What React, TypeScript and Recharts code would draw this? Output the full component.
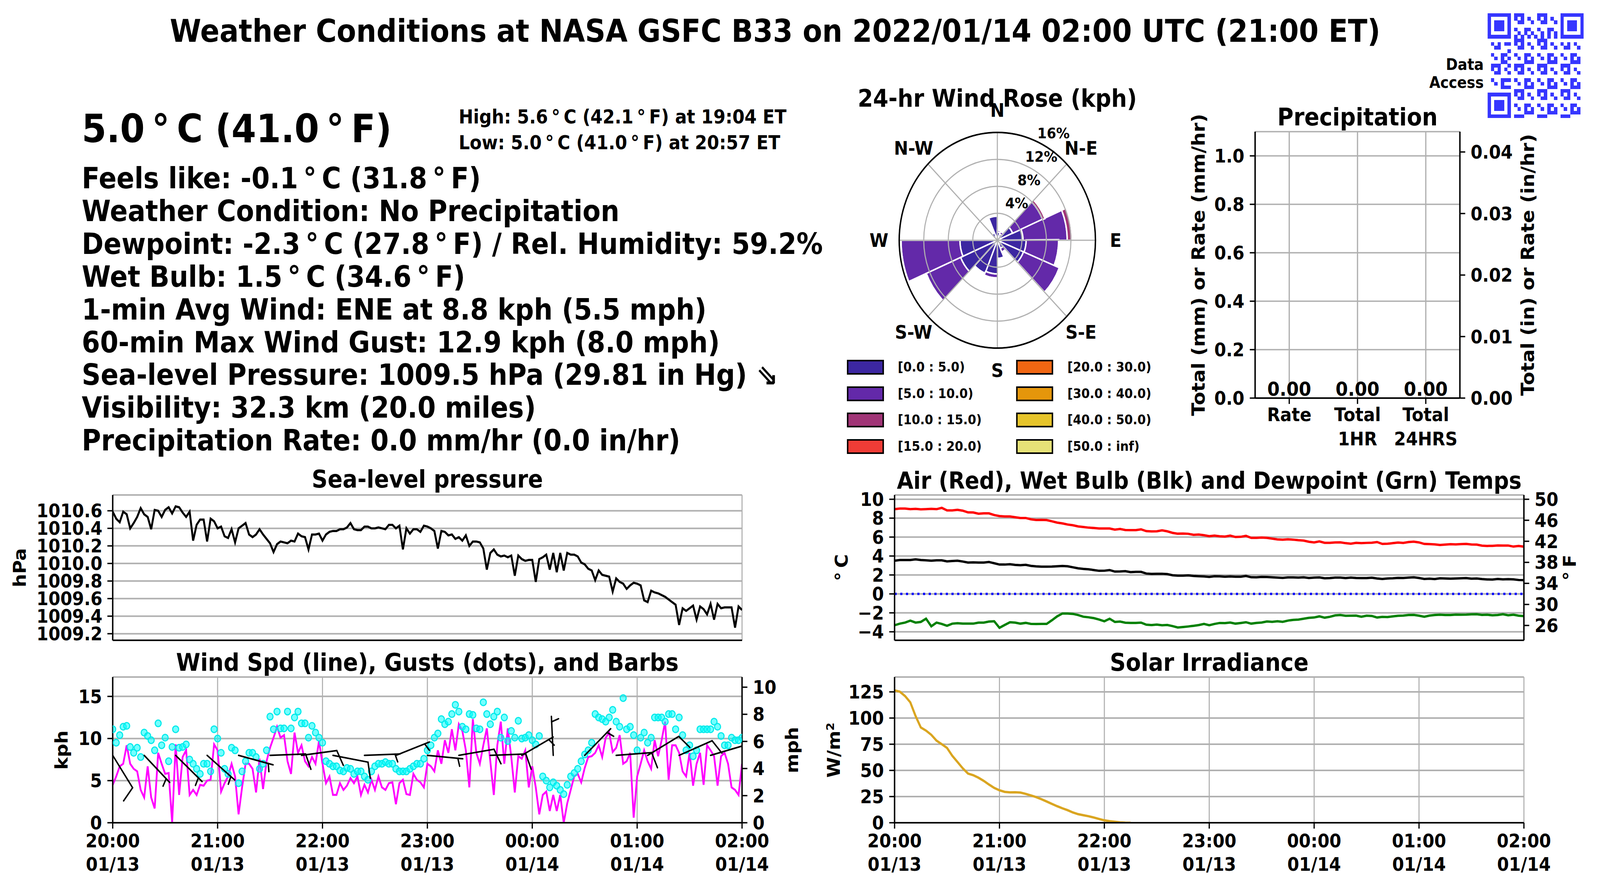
import React from "react";
import {
  ComposedChart,
  Bar,
  LineChart,
  Line,
  Scatter,
  XAxis,
  YAxis,
  CartesianGrid,
  ReferenceLine,
  RadialBarChart,
  RadialBar,
  PolarGrid,
  PolarAngleAxis,
  PolarRadiusAxis,
} from "recharts";

const FONT = "'DejaVu Sans', Verdana, sans-serif";

// ---------- time axis (minutes after 20:00 ET) ----------
const hourTicks = [0, 60, 120, 180, 240, 300, 360];
const hourLabels = ["20:00", "21:00", "22:00", "23:00", "00:00", "01:00", "02:00"];
const dateLabels = ["01/13", "01/13", "01/13", "01/13", "01/14", "01/14", "01/14"];

// ---------- sea-level pressure, one reading every 2 min ----------
const PRESSURE_STEP = 2;
const pressureHpa = [
  1010.59, 1010.51, 1010.47, 1010.59, 1010.56, 1010.4, 1010.46, 1010.53, 1010.63, 1010.56,
  1010.53, 1010.39, 1010.61, 1010.6, 1010.53, 1010.61, 1010.64, 1010.57, 1010.65, 1010.64,
  1010.58, 1010.53, 1010.59, 1010.26, 1010.44, 1010.5, 1010.5, 1010.25, 1010.51, 1010.48,
  1010.4, 1010.42, 1010.31, 1010.29, 1010.39, 1010.24, 1010.4, 1010.43, 1010.46, 1010.33,
  1010.3, 1010.33, 1010.39, 1010.33, 1010.28, 1010.23, 1010.13, 1010.22, 1010.25, 1010.24,
  1010.23, 1010.26, 1010.25, 1010.34, 1010.31, 1010.3, 1010.16, 1010.33, 1010.33, 1010.34,
  1010.26, 1010.33, 1010.36, 1010.37, 1010.37, 1010.39, 1010.39, 1010.41, 1010.46, 1010.39,
  1010.38, 1010.38, 1010.42, 1010.42, 1010.4, 1010.4, 1010.41, 1010.4, 1010.39, 1010.44,
  1010.44, 1010.4, 1010.43, 1010.16, 1010.4, 1010.34, 1010.39, 1010.39, 1010.36, 1010.43,
  1010.42, 1010.4, 1010.37, 1010.17, 1010.37, 1010.36, 1010.32, 1010.33, 1010.28, 1010.3,
  1010.26, 1010.32, 1010.2, 1010.25, 1010.25, 1010.24, 1010.17, 1009.93, 1010.12, 1010.16,
  1010.1, 1010.08, 1010.09, 1010.07, 1010.09, 1009.86, 1010.09, 1010.05, 1010.03, 1010.04,
  1010.04, 1009.79, 1010.05, 1010.07, 1010.1, 1009.93, 1010.12, 1009.9, 1010.12, 1009.92,
  1010.12, 1010.1, 1010.1, 1010.08, 1010.01, 1009.99, 1009.94, 1009.92, 1009.81, 1009.92,
  1009.87, 1009.86, 1009.85, 1009.68, 1009.83, 1009.79, 1009.77, 1009.71, 1009.75, 1009.78,
  1009.77, 1009.75, 1009.58, 1009.56, 1009.69, 1009.67, 1009.66, 1009.64, 1009.62, 1009.59,
  1009.56, 1009.53, 1009.3, 1009.49, 1009.46, 1009.49, 1009.52, 1009.36, 1009.51, 1009.48,
  1009.42, 1009.54, 1009.36, 1009.54, 1009.49, 1009.5, 1009.5, 1009.5, 1009.27, 1009.51,
  1009.47,
];
const pressureTicks = [1009.2, 1009.4, 1009.6, 1009.8, 1010.0, 1010.2, 1010.4, 1010.6];

// ---------- wind speed and gusts (kph), every 2 min ----------
const WIND_STEP = 2;
const windKph = [
  4.5, 5.5, 6.7, 7.0, 9.2, 7.0, 6.4, 6.1, 3.9, 3.0,
  6.7, 3.0, 1.7, 8.3, 7.0, 5.8, 5.9, 0.0, 9.3, 3.3,
  7.8, 8.6, 3.3, 3.9, 3.3, 4.5, 4.4, 5.0, 5.1, 9.3,
  8.6, 3.7, 4.7, 5.5, 7.0, 5.5, 1.0, 4.2, 7.0, 7.0,
  6.4, 3.6, 7.6, 4.0, 7.3, 8.9, 10.1, 11.4, 10.1, 10.4,
  7.3, 5.8, 10.7, 8.3, 9.2, 7.3, 6.7, 7.8, 7.0, 9.7,
  7.0, 4.7, 5.5, 3.3, 3.3, 4.7, 3.9, 4.4, 5.3, 4.7,
  5.5, 3.3, 4.5, 3.6, 5.1, 3.9, 5.5, 4.2, 3.9, 4.7,
  4.8, 2.2, 4.7, 5.1, 3.4, 3.3, 5.8, 5.1, 4.8, 4.2,
  7.0, 6.7, 6.1, 8.6, 7.0, 9.8, 8.3, 11.1, 8.6, 11.7,
  10.9, 8.6, 4.2, 12.3, 8.3, 7.0, 9.2, 11.2, 7.3, 3.3,
  9.2, 12.0, 7.0, 11.2, 7.8, 3.6, 7.9, 7.6, 8.6, 4.2,
  6.7, 4.2, 1.0, 3.3, 3.7, 1.4, 3.3, 1.4, 3.3, 0.0,
  2.3, 3.9, 5.5, 5.8, 4.8, 6.5, 7.8, 7.9, 8.3, 9.2,
  7.8, 10.1, 10.7, 8.4, 8.9, 10.4, 7.0, 7.3, 8.3, 0.6,
  5.5, 7.0, 8.6, 7.3, 6.4, 9.8, 7.9, 9.8, 12.0, 5.1,
  9.2, 9.2, 8.3, 6.1, 5.5, 8.3, 4.4, 7.0, 8.3, 4.5,
  9.2, 8.6, 7.9, 4.4, 7.9, 8.3, 7.0, 4.2, 3.9, 3.3,
  7.0,
];
const gustKph = [
  11.1, 9.5, 10.4, 11.4, 11.5, 9.0, 8.3, 8.9, 7.8, 10.7,
  10.3, 9.8, 8.6, 11.8, 9.2, 10.1, 7.3, 9.0, 11.1, 8.9,
  9.0, 9.3, 7.5, 7.0, 6.4, 5.8, 7.0, 7.0, 6.1, 11.1,
  10.0, 8.3, 6.4, 5.8, 8.9, 8.6, 4.7, 6.1, 7.3, 8.3,
  8.3, 7.8, 6.4, 7.0, 8.6, 12.6, 11.1, 13.2, 11.2, 11.2,
  13.2, 11.2, 12.5, 13.2, 11.8, 11.8, 10.1, 11.5, 10.7, 10.1,
  9.5, 7.3, 7.0, 6.7, 6.7, 6.2, 6.1, 6.5, 6.4, 5.8,
  6.1, 6.1, 5.5, 5.1, 6.1, 6.7, 7.0, 7.0, 7.2, 7.0,
  7.0, 6.4, 6.1, 6.1, 6.1, 6.4, 6.7, 7.0, 7.0, 7.6,
  8.6, 9.2, 10.1, 10.6, 12.3, 11.7, 12.0, 12.9, 14.0, 13.2,
  11.4, 11.1, 12.9, 12.8, 11.2, 11.1, 14.3, 12.9, 11.7, 12.6,
  13.2, 10.1, 12.5, 9.7, 10.9, 10.1, 12.1, 10.0, 10.1, 10.4,
  9.8, 9.3, 10.3, 5.5, 5.0, 4.2, 4.8, 4.4, 3.9, 3.4,
  4.5, 5.5, 5.9, 6.4, 7.3, 8.1, 8.6, 9.5, 12.9, 12.5,
  12.3, 12.0, 12.5, 13.4, 12.0, 11.4, 14.8, 11.1, 11.4, 10.4,
  8.6, 10.1, 10.7, 9.5, 10.1, 12.5, 12.5, 12.5, 12.0, 12.9,
  12.9, 11.1, 12.5, 10.4, 8.6, 9.2, 7.9, 8.6, 11.1, 11.1,
  11.1, 11.1, 12.0, 11.4, 10.3, 9.2, 9.2, 10.1, 9.8, 9.8,
  10.1,
];
const kphTicks = [0, 5, 10, 15];
const mphTicks = [0, 2, 4, 6, 8, 10];
const KPH_MAX = 17.3;
const KPH_PER_MPH = 1.609344;

// wind barbs, one every 18 min, drawn at the 8 kph level
const barbMinutes = [0, 18, 36, 54, 72, 90, 108, 126, 144, 162, 180, 198, 216, 234, 252, 270, 288, 306, 324, 342];
const barbFromDeg = [146, 134, 132, 129, 104, 88, 83, 100, 88, 70, 95, 81, 88, 62, 357, 47, 86, 61, 68, 75];
const barbSpeed = [8.4, 6.0, 5.5, 5.2, 6.5, 8.6, 9.0, 7.8, 5.0, 5.5, 6.8, 9.5, 8.8, 5.5, 3.5, 7.0, 8.0, 8.2, 8.5, 8.0];
const BARB_LEVEL_KPH = 8;

// ---------- temperatures (deg C), every 3 min ----------
const TEMP_STEP = 3;
const airC = [
  8.95, 9.02, 9.02, 8.95, 8.98, 8.93, 8.95, 8.98, 8.95, 9.09,
  8.82, 8.82, 8.88, 8.79, 8.61, 8.6, 8.47, 8.51, 8.51, 8.33,
  8.22, 8.18, 8.18, 8.1, 8.02, 8.02, 7.88, 7.81, 7.82, 7.8,
  7.67, 7.53, 7.45, 7.33, 7.25, 7.13, 7.07, 7.0, 6.96, 6.91,
  6.91, 6.91, 6.79, 6.86, 6.75, 6.74, 6.74, 6.82, 6.63, 6.6,
  6.61, 6.71, 6.61, 6.45, 6.36, 6.38, 6.35, 6.24, 6.27, 6.2,
  6.1, 6.16, 6.09, 6.06, 6.16, 6.01, 6.03, 6.13, 5.92, 5.92,
  5.95, 5.92, 5.84, 5.76, 5.73, 5.77, 5.73, 5.67, 5.63, 5.51,
  5.44, 5.55, 5.4, 5.4, 5.44, 5.45, 5.36, 5.3, 5.39, 5.36,
  5.39, 5.41, 5.48, 5.28, 5.3, 5.36, 5.43, 5.39, 5.48, 5.52,
  5.44, 5.28, 5.26, 5.23, 5.17, 5.21, 5.25, 5.23, 5.26, 5.28,
  5.22, 5.21, 5.1, 5.07, 5.08, 5.12, 5.11, 5.11, 5.0, 5.06,
  4.99,
];
const wetBulbC = [
  3.51, 3.58, 3.58, 3.58, 3.65, 3.58, 3.55, 3.51, 3.55, 3.55,
  3.44, 3.48, 3.51, 3.42, 3.31, 3.33, 3.31, 3.31, 3.37, 3.24,
  3.1, 3.1, 3.14, 3.06, 3.03, 3.07, 2.96, 2.91, 2.88, 2.88,
  2.89, 2.92, 2.95, 2.92, 2.81, 2.7, 2.64, 2.6, 2.52, 2.44,
  2.45, 2.52, 2.36, 2.37, 2.4, 2.3, 2.33, 2.33, 2.15, 2.11,
  2.13, 2.13, 2.09, 1.97, 1.93, 1.93, 1.96, 1.9, 1.87, 1.85,
  1.8, 1.87, 1.86, 1.82, 1.85, 1.82, 1.82, 1.9, 1.76, 1.75,
  1.79, 1.78, 1.75, 1.72, 1.69, 1.74, 1.74, 1.72, 1.75, 1.68,
  1.72, 1.74, 1.65, 1.67, 1.72, 1.72, 1.67, 1.72, 1.68, 1.67,
  1.67, 1.71, 1.63, 1.58, 1.63, 1.65, 1.69, 1.68, 1.72, 1.75,
  1.68, 1.58, 1.61, 1.57, 1.65, 1.63, 1.61, 1.63, 1.65, 1.67,
  1.61, 1.63, 1.57, 1.53, 1.52, 1.58, 1.54, 1.56, 1.54, 1.47,
  1.45,
];
const dewpointC = [
  -3.31, -3.14, -3.03, -2.82, -3.03, -2.96, -2.62, -3.42, -3.03, -3.17,
  -3.37, -3.14, -3.1, -3.14, -3.14, -3.14, -3.03, -3.03, -2.92, -2.89,
  -3.58, -3.28, -2.99, -3.03, -3.14, -3.06, -3.17, -3.18, -3.17, -3.17,
  -2.78, -2.37, -2.07, -2.07, -2.11, -2.23, -2.41, -2.47, -2.56, -2.71,
  -2.89, -2.62, -2.96, -2.92, -3.04, -3.06, -3.06, -3.03, -3.25, -3.29,
  -3.24, -3.31, -3.28, -3.4, -3.55, -3.5, -3.44, -3.37, -3.29, -3.17,
  -3.31, -3.17, -3.07, -3.08, -3.02, -3.14, -3.07, -2.99, -3.14, -3.06,
  -3.02, -2.91, -2.95, -2.89, -2.95, -2.82, -2.74, -2.71, -2.62, -2.53,
  -2.49, -2.37, -2.51, -2.42, -2.27, -2.23, -2.31, -2.3, -2.29, -2.41,
  -2.3, -2.33, -2.49, -2.42, -2.44, -2.37, -2.31, -2.29, -2.23, -2.22,
  -2.3, -2.41, -2.29, -2.23, -2.2, -2.23, -2.23, -2.19, -2.2, -2.19,
  -2.16, -2.15, -2.22, -2.2, -2.26, -2.23, -2.15, -2.26, -2.2, -2.3,
  -2.34,
];
const tempCTicks = [-4, -2, 0, 2, 4, 6, 8, 10];
const tempFTicks = [26, 30, 34, 38, 42, 46, 50];
const TEMP_C_MIN = -4.9;
const TEMP_C_MAX = 10.45;

// ---------- solar irradiance (W/m2), every 3 min until sunset ----------
const SOLAR_STEP = 3;
const solarWm2 = [
  126.4, 125.2, 121, 115, 102, 91, 88, 84, 78.4, 75,
  71.5, 64, 58, 52, 47, 45.4, 43, 40, 36.5, 33.3,
  31, 29.5, 29, 29.1, 28.8, 27.6, 26.1, 24.5, 22.5, 20.3,
  18, 15.8, 13.8, 12.0, 9.8, 8.2, 7.2, 6.2, 5.0, 3.6,
  2.3, 1.5, 0.9, 0.4, 0.1, 0,
];
const solarTicks = [0, 25, 50, 75, 100, 125];

// ---------- precipitation ----------
const precipCategories = ["Rate", "Total 1HR", "Total 24HRS"];
const precipTickLines = [["Rate"], ["Total", "1HR"], ["Total", "24HRS"]];
const precipMm = [0, 0, 0];
const precipMmTicks = [0, 0.2, 0.4, 0.6, 0.8, 1.0];
const precipInTicks = [0, 0.01, 0.02, 0.03, 0.04];
const PRECIP_MM_MAX = 1.1;
const MM_PER_IN = 25.4;

// ---------- 24-hr wind rose (% of time) ----------
const roseDirs = ["N", "NNE", "NE", "ENE", "E", "ESE", "SE", "SSE", "S", "SSW", "SW", "WSW", "W", "WNW", "NW", "NNW"];
const roseDirLabels = ["N", "N-E", "E", "S-E", "S", "S-W", "W", "N-W"];
const roseBins = ["[0.0 : 5.0)", "[5.0 : 10.0)", "[10.0 : 15.0)", "[15.0 : 20.0)", "[20.0 : 30.0)", "[30.0 : 40.0)", "[40.0 : 50.0)", "[50.0 : inf)"];
const roseColors = ["#3c27a1", "#6329a9", "#a03476", "#ef3c36", "#f06612", "#e5960b", "#e6c42a", "#e6e277"];
const rose0to5 = [3.6, 1.2, 1.0, 2.7, 4.2, 4.7, 4.6, 1.3, 2.7, 5.0, 5.3, 6.5, 6.1, 0, 0, 1.2];
const rose5to10 = [0, 0.3, 0.4, 5.3, 7.2, 5.3, 6.3, 0.6, 0, 0.6, 0, 6.1, 9.6, 0, 0, 0];
const rose10to15 = [0, 0, 0, 0.4, 0.8, 0, 0, 0, 0, 0, 0, 0, 0, 0, 0, 0];
const roseBinPct = [rose0to5, rose5to10, rose10to15];
const roseRingTicks = [4, 8, 12, 16];
const ROSE_MAX = 16;

// ---------- station readout ----------
const DEG = "\u2009°\u2009";
const readoutLines = [
  `Feels like: -0.1${DEG}C (31.8${DEG}F)`,
  "Weather Condition: No Precipitation",
  `Dewpoint: -2.3${DEG}C (27.8${DEG}F) / Rel. Humidity: 59.2%`,
  `Wet Bulb: 1.5${DEG}C (34.6${DEG}F)`,
  "1-min Avg Wind: ENE at 8.8 kph (5.5 mph)",
  "60-min Max Wind Gust: 12.9 kph (8.0 mph)",
  "Sea-level Pressure: 1009.5 hPa (29.81 in Hg) \u21d8",
  "Visibility: 32.3 km (20.0 miles)",
  "Precipitation Rate: 0.0 mm/hr (0.0 in/hr)",
];

// ---------- derived rows ----------
const pressureRows = pressureHpa.map((p, i) => ({ t: i * PRESSURE_STEP, p }));
const windRows = windKph.map((w, i) => ({ t: i * WIND_STEP, w }));
const gustRows = gustKph.map((g, i) => ({ t: i * WIND_STEP, g }));
const barbRows = barbMinutes.map((t, i) => ({ t, y: BARB_LEVEL_KPH, dir: barbFromDeg[i], spd: barbSpeed[i] }));
const tempRows = airC.map((a, i) => ({ t: i * TEMP_STEP, air: a, wet: wetBulbC[i], dew: dewpointC[i] }));
const solarRows = solarWm2.map((s, i) => ({ t: i * SOLAR_STEP, s }));
const precipRows = precipCategories.map((name, i) => ({ name, v: precipMm[i] }));
const roseRows = roseDirs.map((dir, i) => {
  const row: any = { dir };
  roseBinPct.forEach((arr, b) => (row["b" + b] = arr[i]));
  return row;
});

// ---------- styles ----------
const spine = { stroke: "#000", strokeWidth: 4 };
const tickLineStyle = { stroke: "#000", strokeWidth: 3.5 };
const tickFont = { fill: "#000", fontSize: 48, fontWeight: 700, fontFamily: FONT };
const GRID = "#b0b0b0";
const minus = (v: number) => (v < 0 ? "\u2212" + Math.abs(v) : String(v));

const Txt = ({ x, y, size, anchor = "middle", rotate = 0, children }: any) => {
  const tx = anchor === "start" ? "0%" : anchor === "end" ? "-100%" : "-50%";
  return (
    <div
      style={{
        position: "absolute",
        left: x,
        top: y,
        transform: `translate(${tx}, -50%) rotate(${rotate}deg)`,
        fontFamily: FONT,
        fontWeight: 700,
        fontSize: size,
        lineHeight: 1.15,
        whiteSpace: "pre",
        color: "#000",
        textAlign: anchor === "end" ? "right" : "left",
      }}
    >
      {children}
    </div>
  );
};

const TimeTick = (props: any) => {
  const { x, y, payload } = props;
  const i = hourTicks.indexOf(payload.value);
  return (
    <text x={x} y={y} textAnchor="middle" fill="#000" fontSize={48} fontWeight={700} fontFamily={FONT}>
      <tspan x={x} dy={48}>{hourLabels[i]}</tspan>
      <tspan x={x} dy={60}>{dateLabels[i]}</tspan>
    </text>
  );
};

const PrecipTick = (props: any) => {
  const { x, y, payload } = props;
  const lines = precipTickLines[precipCategories.indexOf(payload.value)] || [];
  return (
    <text x={x} y={y} textAnchor="middle" fill="#000" fontSize={48} fontWeight={700} fontFamily={FONT}>
      {lines.map((l, k) => (
        <tspan key={k} x={x} dy={k === 0 ? 44 : 62}>{l}</tspan>
      ))}
    </text>
  );
};

// value label drawn just above each precipitation bar's top
const PrecipValue = (props: any) => (
  <text x={props.cx} y={props.cy - 6} textAnchor="middle" fill="#000" fontSize={50} fontWeight={700} fontFamily={FONT}>
    {Number(props.payload.v).toFixed(2)}
  </text>
);

const GustDot = (props: any) => (
  <circle cx={props.cx} cy={props.cy} r={8.5} fill="#00ffff" fillOpacity={0.55} stroke="#00eaea" strokeWidth={3} />
);

const BARB_LEN = 100;
const Barb = (props: any) => {
  const { cx, cy, payload } = props;
  const phi = ((payload.dir - 90) * Math.PI) / 180;
  const ux = Math.cos(phi);
  const uy = Math.sin(phi);
  const ex = cx + BARB_LEN * ux;
  const ey = cy + BARB_LEN * uy;
  const rounded = Math.round(payload.spd / 5) * 5;
  const full = rounded >= 10;
  const inset = full ? 0 : 14;
  const len = full ? 42 : 21;
  const f = ((payload.dir - 90 + 71) * Math.PI) / 180;
  const sx = ex - inset * ux;
  const sy = ey - inset * uy;
  return (
    <g stroke="#000" strokeWidth={4} strokeLinecap="round">
      <line x1={cx} y1={cy} x2={ex} y2={ey} />
      {rounded > 0 && <line x1={sx} y1={sy} x2={sx + len * Math.cos(f)} y2={sy + len * Math.sin(f)} />}
    </g>
  );
};

// wind rose geometry
const ROSE_BOX = 800;
const ROSE_C = 400;
const ROSE_R = 276;
const ROSE_LABEL_R = 333;

const RoseDirTick = (props: any) => {
  const { x, y, index } = props;
  if (index % 2 !== 0) return <g />;
  const cx = props.cx ?? ROSE_C;
  const cy = props.cy ?? ROSE_C;
  const dx = x - cx;
  const dy = y - cy;
  const d = Math.sqrt(dx * dx + dy * dy) || 1;
  return (
    <text
      x={cx + (dx / d) * ROSE_LABEL_R}
      y={cy + (dy / d) * ROSE_LABEL_R}
      textAnchor="middle"
      dominantBaseline="central"
      fill="#000"
      fontSize={48}
      fontWeight={700}
      fontFamily={FONT}
    >
      {roseDirLabels[index / 2]}
    </text>
  );
};

const RoseRingTick = (props: any) => {
  const { x, y, payload } = props;
  return (
    <text x={x + 20} y={y - 35} textAnchor="middle" dominantBaseline="central" fill="#000" fontSize={38} fontWeight={700} fontFamily={FONT}>
      {payload.value}%
    </text>
  );
};

const QR_N = 29;
const qrDark = (r: number, c: number) => {
  const inF = (r0: number, c0: number) => r >= r0 && r < r0 + 7 && c >= c0 && c < c0 + 7;
  const fin = (r0: number, c0: number) => {
    const lr = r - r0;
    const lc = c - c0;
    return lr === 0 || lr === 6 || lc === 0 || lc === 6 || (lr >= 2 && lr <= 4 && lc >= 2 && lc <= 4);
  };
  if (inF(0, 0)) return fin(0, 0);
  if (inF(0, QR_N - 7)) return fin(0, QR_N - 7);
  if (inF(QR_N - 7, 0)) return fin(QR_N - 7, 0);
  if ((r === 7 && (c < 8 || c >= QR_N - 8)) || (c === 7 && (r < 8 || r >= QR_N - 8))) return false;
  if (r === QR_N - 8 && c < 8) return false;
  if (c === QR_N - 8 && r < 8) return false;
  if (r === 6) return c % 2 === 0;
  if (c === 6) return r % 2 === 0;
  return (r * r * 7 + c * 13 + r * c * 5 + 3) % 7 < 3;
};

const QrCode = () => {
  const cells: React.ReactNode[] = [];
  for (let r = 0; r < QR_N; r++)
    for (let c = 0; c < QR_N; c++)
      if (qrDark(r, c)) cells.push(<rect key={r + "_" + c} x={c} y={r} width={1.02} height={1.02} />);
  return (
    <svg
      style={{ position: "absolute", left: 4184, top: 34 }}
      width={270}
      height={268}
      viewBox={`0 0 ${QR_N} ${QR_N}`}
      preserveAspectRatio="none"
      shapeRendering="crispEdges"
    >
      <g fill="#3636ff">{cells}</g>
    </svg>
  );
};

const xAxisBottom = (withLabels: boolean, height: number) => (
  <XAxis
    type="number"
    dataKey="t"
    domain={[0, 360]}
    ticks={hourTicks}
    interval={0}
    height={height}
    tickSize={15}
    tickMargin={0}
    tickLine={tickLineStyle}
    axisLine={spine}
    tick={withLabels ? <TimeTick /> : false}
    allowDataOverflow
  />
);

const xAxisTop = (
  <XAxis xAxisId="top" orientation="top" type="number" domain={[0, 360]} height={0} tick={false} tickLine={false} axisLine={spine} />
);

const PAGE_W = 4500;
const PAGE_H = 2250;

export default function App() {
  // the figure is laid out at 4500x2250 and stretched onto whatever viewport the page gets
  const vw = typeof window !== "undefined" ? document.documentElement.clientWidth || window.innerWidth : PAGE_W;
  const vh = typeof window !== "undefined" ? window.innerHeight : PAGE_H;
  const sx = Math.min(1, vw / PAGE_W);
  const sy = Math.min(1, vh / PAGE_H);
  return (
    <div
      style={{
        position: "absolute",
        left: 0,
        top: 0,
        width: PAGE_W,
        height: PAGE_H,
        background: "#fff",
        overflow: "hidden",
        transform: `scale(${sx}, ${sy})`,
        transformOrigin: "0 0",
      }}
    >
      {/* headline + readout */}
      <Txt x={2180} y={80} size={80}>Weather Conditions at NASA GSFC B33 on 2022/01/14 02:00 UTC (21:00 ET)</Txt>
      <Txt x={230} y={329} size={100} anchor="start">{`5.0${DEG}C (41.0${DEG}F)`}</Txt>
      <Txt x={1290} y={300} size={49} anchor="start">{`High: 5.6${DEG}C (42.1${DEG}F) at 19:04 ET`}</Txt>
      <Txt x={1290} y={366} size={49} anchor="start">{`Low: 5.0${DEG}C (41.0${DEG}F) at 20:57 ET`}</Txt>
      {readoutLines.map((l, i) => (
        <Txt key={i} x={230} y={457 + i * 83.9} size={74} anchor="start">{l}</Txt>
      ))}

      <QrCode />
      <Txt x={4173} y={188} size={40} anchor="end">{"Data\nAccess"}</Txt>

      {/* wind rose */}
      <Txt x={2805} y={252} size={62}>24-hr Wind Rose (kph)</Txt>
      <div style={{ position: "absolute", left: 2805 - ROSE_C, top: 615 - ROSE_C }}>
        <RadialBarChart
          width={ROSE_BOX}
          height={ROSE_BOX}
          cx={ROSE_C}
          cy={ROSE_C}
          innerRadius={0}
          outerRadius={ROSE_R}
          startAngle={90}
          endAngle={-270}
          data={roseRows}
          layout={"centric" as any}
          barCategoryGap={0}
          margin={{ top: 0, right: 0, bottom: 0, left: 0 }}
        >
          <PolarAngleAxis type="category" dataKey="dir" tick={false} tickLine={false} axisLine={false} />
          <PolarRadiusAxis type="number" domain={[0, ROSE_MAX]} tick={false} tickLine={false} axisLine={false} />
          {roseBinPct.map((arr, b) => (
            <RadialBar
              key={b}
              dataKey={"b" + b}
              stackId="rose"
              fill={roseColors[b]}
              stroke="#fff"
              strokeWidth={4}
              isAnimationActive={false}
            />
          ))}
        </RadialBarChart>
      </div>
      {/* grid and labels drawn above the bars */}
      <div style={{ position: "absolute", left: 2805 - ROSE_C, top: 615 - ROSE_C }}>
        <RadialBarChart
          width={ROSE_BOX}
          height={ROSE_BOX}
          cx={ROSE_C}
          cy={ROSE_C}
          innerRadius={0}
          outerRadius={ROSE_R}
          startAngle={90}
          endAngle={-270}
          data={roseRows}
          layout={"centric" as any}
          barCategoryGap={0}
          margin={{ top: 0, right: 0, bottom: 0, left: 0 }}
        >
          <PolarGrid
            gridType="circle"
            stroke={GRID}
            strokeWidth={3}
            polarAngles={roseDirs.map((_, i) => 90 - i * 22.5).filter((_, i) => i % 2 === 0)}
          />
          <PolarAngleAxis type="category" dataKey="dir" tick={<RoseDirTick />} tickLine={false} axisLine={false} />
          <PolarRadiusAxis
            type="number"
            angle={60}
            domain={[0, ROSE_MAX]}
            ticks={roseRingTicks}
            tick={<RoseRingTick />}
            tickLine={false}
            axisLine={false}
          />
          <RadialBar dataKey="b0" stackId="grid" fill="none" stroke="none" isAnimationActive={false} />
        </RadialBarChart>
      </div>
      <div
        style={{
          position: "absolute",
          left: 2805 - ROSE_R - 2,
          top: 615 - ROSE_R - 2,
          width: 2 * ROSE_R + 4,
          height: 2 * ROSE_R + 4,
          boxSizing: "border-box",
          border: "4px solid #000",
          borderRadius: "50%",
        }}
      />
      {roseBins.map((label, i) => {
        const col = i < 4 ? 0 : 1;
        const row = i % 4;
        const cy = 940 + row * 67.7;
        return (
          <React.Fragment key={label}>
            <div
              style={{
                position: "absolute",
                left: col ? 2858 : 2382,
                top: cy - 19,
                width: 104,
                height: 38,
                boxSizing: "border-box",
                border: "4px solid #000",
                background: roseColors[i],
              }}
            />
            <Txt x={col ? 3002 : 2525} y={cy} size={34} anchor="start">{label}</Txt>
          </React.Fragment>
        );
      })}

      {/* precipitation */}
      <Txt x={3818} y={300} size={62}>Precipitation</Txt>
      <Txt x={3372} y={678} size={50} rotate={-90}>Total (mm) or Rate (mm/hr)</Txt>
      <Txt x={4298} y={678} size={50} rotate={-90}>Total (in) or Rate (in/hr)</Txt>
      <div style={{ position: "absolute", left: 3300, top: 327 }}>
        <ComposedChart width={1000} height={852} data={precipRows} margin={{ top: 10, right: 44, bottom: 10, left: 30 }}>
          <CartesianGrid yAxisId="mm" stroke={GRID} strokeWidth={3.5} />
          <XAxis
            dataKey="name"
            type="category"
            height={150}
            interval={0}
            tickSize={15}
            tickMargin={0}
            tickLine={tickLineStyle}
            axisLine={spine}
            tick={<PrecipTick />}
          />
          <XAxis xAxisId="top" orientation="top" dataKey="name" type="category" height={0} tick={false} tickLine={false} axisLine={spine} />
          <YAxis
            yAxisId="mm"
            type="number"
            domain={[0, PRECIP_MM_MAX]}
            ticks={precipMmTicks}
            interval={0}
            width={200}
            tickSize={15}
            tickMargin={15}
            tickLine={tickLineStyle}
            axisLine={spine}
            tick={tickFont}
            tickFormatter={(v: number) => v.toFixed(1)}
            allowDataOverflow
          />
          <YAxis
            yAxisId="in"
            orientation="right"
            type="number"
            domain={[0, PRECIP_MM_MAX / MM_PER_IN]}
            ticks={precipInTicks}
            interval={0}
            width={150}
            tickSize={15}
            tickMargin={15}
            tickLine={tickLineStyle}
            axisLine={spine}
            tick={tickFont}
            tickFormatter={(v: number) => v.toFixed(2)}
            allowDataOverflow
          />
          <Bar yAxisId="mm" dataKey="v" fill="#1f77b4" isAnimationActive={false} />
          <Scatter yAxisId="mm" dataKey="v" shape={PrecipValue} isAnimationActive={false} />
        </ComposedChart>
      </div>

      {/* sea-level pressure */}
      <Txt x={1202} y={1227} size={62}>Sea-level pressure</Txt>
      <Txt x={56} y={1453} size={48} rotate={-90}>hPa</Txt>
      <div style={{ position: "absolute", left: 0, top: 1237 }}>
        <LineChart width={2110} height={442} data={pressureRows} margin={{ top: 30, right: 23, bottom: 10, left: 17 }}>
          <CartesianGrid yAxisId="p" vertical={false} stroke={GRID} strokeWidth={4} />
          <CartesianGrid yAxisId="p" horizontal={false} stroke={GRID} strokeWidth={3} />
          {xAxisBottom(false, 30)}
          {xAxisTop}
          <YAxis
            yAxisId="p"
            type="number"
            domain={[1009.125, 1010.78]}
            ticks={pressureTicks}
            interval={0}
            width={300}
            tickSize={15}
            tickMargin={14}
            tickLine={tickLineStyle}
            axisLine={spine}
            tick={tickFont}
            tickFormatter={(v: number) => v.toFixed(1)}
            allowDataOverflow
          />
          <YAxis yAxisId="pr" orientation="right" type="number" domain={[1009.125, 1010.78]} width={0} tick={false} tickLine={false} axisLine={spine} />
          <Line yAxisId="p" type="linear" dataKey="p" stroke="#000" strokeWidth={5.5} dot={false} isAnimationActive={false} />
        </LineChart>
      </div>

      {/* wind */}
      <Txt x={1202} y={1696} size={62}>Wind Spd (line), Gusts (dots), and Barbs</Txt>
      <Txt x={174} y={1920} size={48} rotate={-90}>kph</Txt>
      <Txt x={2228} y={1920} size={48} rotate={-90}>mph</Txt>
      <div style={{ position: "absolute", left: 0, top: 1703 }}>
        <ComposedChart width={2260} height={553} margin={{ top: 30, right: 23, bottom: 10, left: 17 }}>
          <CartesianGrid yAxisId="kph" vertical={false} stroke={GRID} strokeWidth={4} />
          <CartesianGrid yAxisId="kph" horizontal={false} stroke={GRID} strokeWidth={3} />
          {xAxisBottom(true, 140)}
          {xAxisTop}
          <YAxis
            yAxisId="kph"
            type="number"
            domain={[0, KPH_MAX]}
            ticks={kphTicks}
            interval={0}
            width={300}
            tickSize={15}
            tickMargin={15}
            tickLine={tickLineStyle}
            axisLine={spine}
            tick={tickFont}
            allowDataOverflow
          />
          <YAxis
            yAxisId="mph"
            orientation="right"
            type="number"
            domain={[0, KPH_MAX / KPH_PER_MPH]}
            ticks={mphTicks}
            interval={0}
            width={150}
            tickSize={15}
            tickMargin={15}
            tickLine={tickLineStyle}
            axisLine={spine}
            tick={tickFont}
            allowDataOverflow
          />
          <Scatter yAxisId="kph" data={gustRows} dataKey="g" shape={GustDot} isAnimationActive={false} />
          <Line yAxisId="kph" data={windRows} type="linear" dataKey="w" stroke="#ff00ff" strokeWidth={5} dot={false} isAnimationActive={false} />
          <Scatter yAxisId="kph" data={barbRows} dataKey="y" shape={Barb} isAnimationActive={false} />
        </ComposedChart>
      </div>

      {/* temperatures */}
      <Txt x={3401} y={1230} size={60}>Air (Red), Wet Bulb (Blk) and Dewpoint (Grn) Temps</Txt>
      <Txt x={2368} y={1453} size={48} rotate={-90}>{"°\u2009C"}</Txt>
      <Txt x={4415} y={1453} size={48} rotate={-90}>{"°\u2009F"}</Txt>
      <div style={{ position: "absolute", left: 2300, top: 1237 }}>
        <LineChart width={2160} height={442} data={tempRows} margin={{ top: 30, right: 24, bottom: 10, left: 16 }}>
          <CartesianGrid yAxisId="c" vertical={false} stroke={GRID} strokeWidth={4} />
          <CartesianGrid yAxisId="c" horizontal={false} stroke={GRID} strokeWidth={3} />
          {xAxisBottom(false, 30)}
          {xAxisTop}
          <YAxis
            yAxisId="c"
            type="number"
            domain={[TEMP_C_MIN, TEMP_C_MAX]}
            ticks={tempCTicks}
            interval={0}
            width={200}
            tickSize={15}
            tickMargin={15}
            tickLine={tickLineStyle}
            axisLine={spine}
            tick={tickFont}
            tickFormatter={minus}
            allowDataOverflow
          />
          <YAxis
            yAxisId="f"
            orientation="right"
            type="number"
            domain={[TEMP_C_MIN * 1.8 + 32, TEMP_C_MAX * 1.8 + 32]}
            ticks={tempFTicks}
            interval={0}
            width={150}
            tickSize={15}
            tickMargin={15}
            tickLine={tickLineStyle}
            axisLine={spine}
            tick={tickFont}
            allowDataOverflow
          />
          <ReferenceLine yAxisId="c" y={0} stroke="#0000ff" strokeWidth={6} strokeDasharray="6 10" />
          <Line yAxisId="c" type="linear" dataKey="air" stroke="#ff0000" strokeWidth={6} dot={false} isAnimationActive={false} />
          <Line yAxisId="c" type="linear" dataKey="wet" stroke="#000000" strokeWidth={6} dot={false} isAnimationActive={false} />
          <Line yAxisId="c" type="linear" dataKey="dew" stroke="#008000" strokeWidth={6} dot={false} isAnimationActive={false} />
        </LineChart>
      </div>

      {/* solar */}
      <Txt x={3401} y={1696} size={62}>Solar Irradiance</Txt>
      <Txt x={2346} y={1920} size={48} rotate={-90}>
        <span>W/m</span>
        <span style={{ fontSize: 30, verticalAlign: "super" }}>2</span>
      </Txt>
      <div style={{ position: "absolute", left: 2300, top: 1703 }}>
        <LineChart width={2110} height={553} data={solarRows} margin={{ top: 30, right: 124, bottom: 10, left: 16 }}>
          <CartesianGrid yAxisId="s" vertical={false} stroke={GRID} strokeWidth={4} />
          <CartesianGrid yAxisId="s" horizontal={false} stroke={GRID} strokeWidth={3} />
          {xAxisBottom(true, 140)}
          {xAxisTop}
          <YAxis
            yAxisId="s"
            type="number"
            domain={[0, 139.2]}
            ticks={solarTicks}
            interval={0}
            width={200}
            tickSize={15}
            tickMargin={15}
            tickLine={tickLineStyle}
            axisLine={spine}
            tick={tickFont}
            allowDataOverflow
          />
          <YAxis yAxisId="sr" orientation="right" type="number" domain={[0, 139.2]} width={0} tick={false} tickLine={false} axisLine={spine} />
          <Line yAxisId="s" type="linear" dataKey="s" stroke="#daa520" strokeWidth={6} dot={false} isAnimationActive={false} />
        </LineChart>
      </div>
    </div>
  );
}
